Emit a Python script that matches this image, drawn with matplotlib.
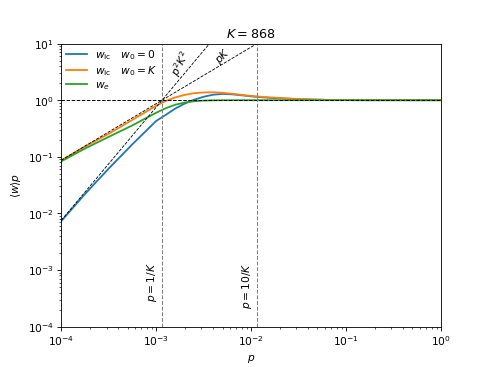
import numpy as np
import matplotlib
matplotlib.use("Agg")
import matplotlib.pyplot as plt

K = 868

# log10(p) sample positions
log_p = [-4.0, -3.75, -3.5, -3.25, -3.0, -2.9, -2.8, -2.7, -2.6, -2.5, -2.4, -2.3,
         -2.2, -2.1, -2.0, -1.9, -1.8, -1.6, -1.4, -1.2, -1.0, -0.8, -0.5, 0.0]
w_ic_w0_zero = [0.0073, 0.022, 0.062, 0.167, 0.43, 0.55, 0.71, 0.87, 1.02, 1.15, 1.25, 1.29,
                1.27, 1.22, 1.17, 1.13, 1.10, 1.06, 1.03, 1.012, 1.004, 1.001, 1.0, 1.0]
w_ic_w0_K = [0.0865, 0.152, 0.255, 0.45, 0.80, 0.97, 1.12, 1.24, 1.33, 1.37, 1.38, 1.35,
             1.30, 1.24, 1.19, 1.15, 1.12, 1.07, 1.035, 1.015, 1.005, 1.001, 1.0, 1.0]
w_e = [0.083, 0.14, 0.225, 0.36, 0.60, 0.72, 0.83, 0.91, 0.96, 0.985, 0.995, 0.999,
       1.0, 1.0, 1.0, 1.0, 1.0, 1.0, 1.0, 1.0, 1.0, 1.0, 1.0, 1.0]

p = 10.0 ** np.array(log_p)

fig = plt.figure(figsize=(6.4, 4.8), dpi=490 / 6.4)
ax = fig.add_subplot(111)

ax.plot(p, w_ic_w0_zero, color="#1f77b4", lw=1.7, label=r"$w_{\rm ic}\quad w_0=0$")
ax.plot(p, w_ic_w0_K, color="#ff7f0e", lw=1.7, label=r"$w_{\rm ic}\quad w_0=K$")
ax.plot(p, w_e, color="#2ca02c", lw=1.7, label=r"$w_e$")

# reference lines
xa = np.array([1e-4, np.sqrt(10.0) / K])
ax.plot(xa, (xa * K) ** 2, "k--", lw=0.8)
xb = np.array([1e-4, 10.0 / K])
ax.plot(xb, xb * K, "k--", lw=0.8)
ax.axhline(1.0, color="k", ls="--", lw=0.9)
ax.axvline(1.0 / K, color="gray", ls="--", lw=1.0)
ax.axvline(10.0 / K, color="gray", ls="--", lw=1.0)

ax.text(1.83e-3, 4.4, r"$p^2K^2$", rotation=63, ha="center", va="center")
ax.text(5.0e-3, 6.0, r"$pK$", rotation=45, ha="center", va="center")
ax.text(0.79 / K, 1.4e-3, r"$p = 1/K$", rotation=90, ha="center", va="top")
ax.text(7.9 / K, 1.4e-3, r"$p = 10/K$", rotation=90, ha="center", va="top")

ax.set_xscale("log")
ax.set_yscale("log")
ax.set_xlim(1e-4, 1)
ax.set_ylim(1e-4, 10)
ax.set_xlabel(r"$p$")
ax.set_ylabel(r"$\langle w\rangle p$")
ax.set_title(r"$K = 868$")
ax.legend(loc="upper left", frameon=False, borderaxespad=0.0, labelspacing=0.2)

fig.savefig("out.png", dpi=490 / 6.4)
